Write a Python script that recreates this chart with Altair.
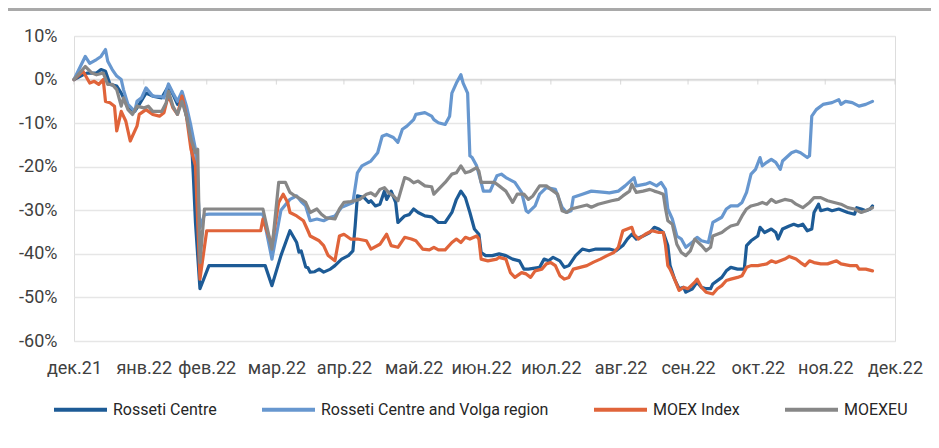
import json
import altair as alt
import pandas as pd

# ---------------- data (days since 2021-12-31, values in %) ----------------
RC_DAYS = [0, 4, 6, 10, 12, 14, 16, 19, 21, 22, 24, 27, 29, 32, 35, 39, 42, 44, 46, 48, 50, 52, 53, 54, 56, 60,
           85, 88, 92, 96, 99, 100, 101, 103, 104, 105, 107, 109, 111, 114, 116, 119, 122, 124, 125, 126, 129, 131,
           132, 134, 136, 138, 139, 141, 143, 144, 147, 149, 151, 153, 156, 159, 162, 165, 168, 170, 172, 174, 176,
           178, 180, 181, 183, 186, 189, 192, 195, 198, 200, 202, 207, 209, 211, 213, 216, 218, 220, 223, 226, 229,
           232, 236, 238, 241, 244, 246, 248, 250, 253, 256, 258, 260, 262, 264, 265, 267, 269, 271, 272, 275, 277,
           279, 281, 283, 284, 288, 290, 292, 295, 298, 299, 301, 304, 305, 307, 310, 312, 313, 315, 318, 320, 322,
           324, 326, 328, 329, 331, 332, 335, 337, 340, 342, 344, 347, 348, 350, 352, 354, 355]
RC_VALUES = [0, 1.1, 1.5, 1.5, 2.3, 1.9, -1.1, -1.5, -3.1, -4.2, -6.5, -7.3, -5.7, -3.1, -3.8, -4.2, -1.5, -3.4,
             -5.7, -3.4, -8.4, -12.2, -21.4, -32.8, -48.0, -42.7,
             -42.7, -47.3, -40.4, -34.7, -37.4, -39.6, -39.3, -43.0, -43.2, -44.2, -44.1, -43.5, -44.2, -43.5,
             -42.7, -41.2, -40.4, -39.3, -33.6, -26.7, -27.1, -28.2, -27.8, -29.0, -28.6, -25.6, -27.5, -25.6,
             -28.2, -32.8, -31.3, -31.0, -29.7, -30.5, -31.3, -31.5, -32.8, -32.8, -30.5, -27.5, -25.6, -27.1,
             -30.5, -34.3, -35.5, -39.7, -40.4, -40.4, -40.0, -40.4, -41.2, -41.6, -43.5, -43.5, -43.1, -41.2,
             -41.6, -40.8, -41.6, -43.1, -42.7, -40.4, -38.9, -39.3, -38.9, -38.9, -38.9, -39.3, -38.1, -36.6,
             -35.5, -36.6, -35.9, -35.1, -33.9, -34.3, -35.1, -38.1, -42.7, -45.8, -48.0, -47.7, -48.8, -48.0,
             -46.5, -47.7, -48.0, -48.0, -46.9, -45.4, -43.9, -43.1, -43.5, -43.5, -38.1, -37.0, -35.9, -33.9,
             -35.1, -34.3, -35.1, -36.6, -34.3, -33.6, -33.2, -33.6, -33.2, -34.7, -34.3, -30.5, -28.6, -30.1,
             -29.7, -30.1, -29.7, -30.1, -30.5, -30.9, -29.4, -29.7, -30.1, -29.7, -29.0]

RCV_DAYS = [0, 5, 7, 10, 12, 14, 15, 17, 19, 21, 22, 24, 27, 28, 30, 32, 35, 39, 40, 42, 44, 46, 48, 50, 52, 54,
            55, 56, 58, 60, 84, 88, 92, 96, 99, 101, 103, 105, 108, 111, 114, 116, 119, 124, 126, 128, 132, 135,
            137, 139, 142, 144, 146, 148, 151, 152, 156, 159, 160, 162, 165, 167, 168, 170, 172, 173, 175, 176, 177,
            179, 181, 182, 185, 188, 190, 192, 196, 199, 201, 202, 205, 207, 210, 214, 217, 219, 221, 222, 226, 230,
            236, 238, 242, 245, 249, 250, 254, 256, 259, 261, 263, 264, 266, 268, 270, 272, 275, 277, 279, 282, 284,
            288, 290, 292, 295, 297, 299, 301, 303, 305, 306, 308, 310, 312, 314, 315, 319, 321, 323, 326, 327, 328,
            330, 333, 337, 340, 341, 343, 346, 349, 352, 355]
RCV_VALUES = [0, 5.3, 3.7, 4.6, 5.3, 6.9, 4.2, 2.3, 0.8, 0.0, -2.3, -5.7, -7.3, -5.0, -4.2, -1.9, -3.8, -3.9, -4.2,
              -1.0, -3.1, -5.0, -2.7, -6.1, -10.7, -16.0, -25.0, -34.0, -31.0, -30.9, -30.9, -41.2, -30.0, -27.5,
              -26.7, -28.0, -29.0, -32.4, -32.0, -32.4, -31.6, -31.3, -29.3, -28.2, -21.4, -19.8, -18.7, -16.8,
              -13.0, -12.6, -13.3, -14.4, -11.4, -10.7, -9.2, -8.0, -7.6, -8.4, -9.2, -9.9, -10.3, -8.4, -3.1,
              -0.8, 1.1, -0.8, -3.1, -17.5, -17.9, -19.8, -23.6, -25.6, -25.6, -22.1, -21.7, -22.5, -23.6, -25.9,
              -30.1, -30.5, -29.0, -26.3, -24.8, -25.2, -29.3, -30.5, -30.1, -27.0, -26.3, -25.6, -25.9, -26.0,
              -25.6, -24.4, -22.5, -24.4, -24.0, -23.6, -24.4, -23.6, -25.2, -29.7, -32.0, -35.9, -36.6, -38.5,
              -37.3, -36.2, -37.0, -37.4, -32.8, -31.6, -29.7, -29.0, -29.0, -28.2, -25.9, -21.7, -20.6, -17.9,
              -19.8, -19.0, -18.3, -19.0, -20.6, -18.7, -16.8, -16.4, -16.8, -17.9, -17.5, -8.4, -6.9, -5.7, -5.3,
              -4.6, -5.7, -5.0, -5.3, -6.1, -5.7, -5.0]

MOEX_DAYS = [0, 4, 7, 9, 11, 13, 14, 16, 18, 19, 21, 23, 25, 28, 29, 32, 35, 38, 40, 42, 44, 46, 48, 50, 52, 54,
             56, 59, 83, 84, 85, 88, 91, 93, 95, 96, 99, 102, 104, 105, 109, 111, 113, 116, 118, 120, 123, 126, 130,
             132, 136, 139, 141, 144, 147, 150, 152, 155, 158, 160, 162, 165, 168, 170, 172, 174, 176, 179, 180, 181,
             184, 188, 189, 192, 194, 196, 199, 201, 203, 205, 208, 210, 212, 214, 216, 218, 220, 222, 225, 228, 231,
             234, 237, 240, 242, 243, 244, 248, 249, 251, 254, 257, 260, 262, 263, 264, 265, 267, 269, 271, 273, 276,
             277, 279, 281, 284, 286, 288, 290, 292, 295, 297, 299, 301, 304, 308, 310, 312, 316, 318, 321, 323, 325,
             327, 329, 332, 335, 339, 341, 345, 348, 349, 352, 355]
MOEX_VALUES = [0, 1.9, -0.8, -0.4, -1.1, 0.0, -5.0, -5.3, -6.1, -11.8, -7.3, -9.5, -14.1, -10.7, -8.0, -6.9, -8.0,
               -8.4, -7.6, -3.4, -6.5, -8.0, -3.8, -8.4, -16.0, -19.8, -45.8, -34.7, -34.7, -32.0, -33.6, -38.1,
               -28.2, -26.3, -28.2, -30.5, -31.3, -32.4, -34.7, -35.9, -37.0, -38.1, -40.4, -41.6, -35.9, -35.5,
               -36.6, -36.6, -37.0, -38.9, -37.8, -35.5, -38.1, -38.5, -36.2, -36.6, -37.0, -38.9, -39.1, -38.5,
               -39.1, -39.1, -37.4, -36.6, -37.4, -36.2, -36.6, -35.9, -36.6, -41.2, -41.6, -41.2, -40.8, -41.2,
               -44.3, -45.4, -44.3, -44.6, -45.4, -43.9, -43.5, -42.3, -42.0, -42.7, -45.0, -45.8, -45.4, -43.5,
               -43.1, -42.7, -41.9, -41.2, -40.4, -39.7, -38.5, -36.6, -34.7, -33.9, -35.5, -36.6, -35.5, -34.7,
               -35.1, -35.1, -38.1, -42.7, -43.5, -45.8, -48.4, -47.7, -48.0, -46.5, -45.8, -47.7, -48.8, -49.2,
               -48.0, -47.3, -46.1, -45.8, -45.4, -45.0, -43.1, -42.7, -42.7, -42.3, -41.6, -42.0, -41.2, -40.6,
               -41.2, -42.0, -42.7, -41.6, -42.0, -42.3, -42.3, -41.6, -42.3, -42.7, -42.7, -43.5, -43.5, -43.9]

MOEXEU_DAYS = [0, 5, 8, 10, 13, 15, 17, 19, 21, 22, 24, 26, 28, 31, 33, 35, 39, 41, 42, 44, 46, 48, 50, 52, 54, 55,
               56, 58, 84, 88, 91, 94, 96, 98, 101, 103, 105, 108, 110, 112, 116, 118, 120, 123, 127, 130, 132, 134,
               136, 138, 140, 142, 144, 147, 149, 151, 153, 156, 159, 160, 162, 165, 168, 170, 172, 174, 176, 179,
               180, 181, 184, 187, 189, 192, 195, 197, 200, 202, 204, 207, 210, 212, 215, 217, 219, 221, 224, 228,
               230, 233, 236, 239, 242, 244, 247, 248, 250, 253, 256, 258, 260, 262, 263, 264, 266, 268, 270, 272,
               274, 276, 279, 281, 283, 284, 288, 290, 292, 295, 297, 299, 301, 304, 306, 308, 310, 312, 316, 319,
               321, 324, 327, 329, 332, 335, 338, 341, 344, 347, 350, 352, 355]
MOEXEU_VALUES = [0, 3.0, 1.5, 1.1, 1.5, -1.1, -1.1, -2.3, -6.1, -4.2, -6.9, -8.0, -6.1, -6.5, -6.1, -7.3, -7.3,
                 -5.3, -2.7, -6.1, -8.0, -5.0, -8.4, -13.7, -16.8, -16.0, -42.0, -29.7, -29.7, -38.9, -23.6, -23.6,
                 -25.9, -26.6, -27.5, -28.2, -30.5, -29.7, -30.9, -31.7, -32.0, -29.7, -28.2, -28.0, -27.5, -26.3,
                 -26.0, -26.7, -25.2, -24.8, -26.0, -26.7, -27.8, -22.5, -22.9, -23.7, -23.3, -24.4, -24.6, -26.3,
                 -25.2, -23.6, -21.7, -21.4, -19.8, -21.4, -21.1, -20.2, -21.0, -23.6, -23.6, -23.6, -24.4, -25.6,
                 -28.2, -26.3, -26.3, -27.5, -26.7, -24.4, -24.4, -25.2, -26.3, -30.1, -30.5, -29.7, -29.3, -28.8,
                 -29.3, -28.6, -28.2, -27.8, -27.5, -26.7, -25.6, -24.0, -25.9, -25.6, -25.2, -25.6, -25.9, -26.3,
                 -29.7, -32.4, -33.2, -37.8, -39.7, -40.4, -39.3, -36.6, -38.1, -39.3, -38.5, -35.9, -35.1, -34.3,
                 -33.6, -33.2, -31.3, -29.7, -29.0, -28.6, -28.2, -28.6, -27.5, -28.2, -27.5, -27.8, -28.6, -29.4,
                 -28.2, -27.1, -27.1, -27.8, -28.2, -28.6, -29.4, -29.7, -30.5, -30.1, -29.4]

SERIES = ["Rosseti Centre", "Rosseti Centre and Volga region", "MOEX Index", "MOEXEU"]
COLORS = ["#1D5B96", "#6797CF", "#E0643A", "#878787"]
START_DATE = "2021-12-31"

TICK_DATES = ["2021-12-31", "2022-01-31", "2022-02-28", "2022-03-31", "2022-04-30", "2022-05-31",
              "2022-06-30", "2022-07-31", "2022-08-31", "2022-09-30", "2022-10-31", "2022-11-30", "2022-12-31"]
MONTH_ABBR = ["янв", "фев", "мар", "апр", "май", "июн", "июл", "авг", "сен", "окт", "ноя", "дек"]
Y_TICKS = [10, 0, -10, -20, -30, -40, -50, -60]

# ---------------- build table ----------------
frames = []
for name, days, vals in zip(SERIES, [RC_DAYS, RCV_DAYS, MOEX_DAYS, MOEXEU_DAYS],
                            [RC_VALUES, RCV_VALUES, MOEX_VALUES, MOEXEU_VALUES]):
    dates = (pd.Timestamp(START_DATE) + pd.to_timedelta(days, unit="D")).strftime("%Y-%m-%d")
    frames.append(pd.DataFrame({"date": dates, "value": vals, "series": name}))
df = pd.concat(frames, ignore_index=True)

ticks_df = pd.DataFrame({"date": TICK_DATES, "value": 0})


def dt(s):
    y, m, d = (int(p) for p in s.split("-"))
    return alt.DateTime(year=y, month=m, date=d, utc=True)


FONT = "Roboto"
TEXT = "#404040"
W, H = 821, 305

label_expr = (json.dumps(MONTH_ABBR, ensure_ascii=False)
              + "[utcmonth(datum.value)] + '.' + utcFormat(datum.value, '%y')")

xscale = alt.Scale(type="utc", domain=[dt(TICK_DATES[0]), dt(TICK_DATES[-1])])
yscale = alt.Scale(domain=[-60, 10], nice=False)

x_enc = alt.X("date:T", scale=xscale, title=None,
              axis=alt.Axis(values=[dt(s) for s in TICK_DATES], labelExpr=label_expr, grid=False,
                            domain=False, ticks=False, labelPadding=18, labelFontSize=18,
                            labelColor=TEXT, labelFont=FONT, labelFlush=False, labelOverlap=False))
y_enc = alt.Y("value:Q", scale=yscale, title=None,
              axis=alt.Axis(values=Y_TICKS, labelExpr="datum.value + '%'", domain=False, ticks=False,
                            labelPadding=17, labelFontSize=18, labelColor=TEXT, labelFont=FONT,
                            grid=True, gridColor="#e6e6e6", gridWidth=1.5))

color_enc = alt.Color("series:N", scale=alt.Scale(domain=SERIES, range=COLORS),
                      legend=alt.Legend(title=None, orient="none", legendX=-22, legendY=345,
                                        direction="horizontal", symbolType="stroke", symbolSize=2809,
                                        symbolStrokeWidth=4, labelFontSize=16, labelFont=FONT,
                                        labelColor="#262626", labelOffset=4, columnPadding=37, padding=0,
                                        labelLimit=400))

zero_rule = alt.Chart(ticks_df).mark_rule(color="#d9d9d9", strokeWidth=1.5).encode(
    y=alt.Y("mean(value):Q", scale=yscale))
zero_ticks = alt.Chart(ticks_df).mark_tick(orient="vertical", size=5, thickness=1.2, color="#d0d0d0",
                                           yOffset=2.5).encode(x=alt.X("date:T", scale=xscale),
                                                               y=alt.Y("value:Q", scale=yscale))
top_rule = alt.Chart(ticks_df).mark_rule(color="#a9a9a9", strokeWidth=2.5).encode(
    x=alt.value(-66), x2=alt.value(W + 36), y=alt.value(-27))

layers = [zero_rule, zero_ticks]
for name in SERIES:
    layers.append(
        alt.Chart(df).transform_filter(alt.datum.series == name)
        .mark_line(strokeWidth=3.2, strokeJoin="round", strokeCap="round")
        .encode(x=x_enc, y=y_enc, color=color_enc)
    )
layers.append(top_rule)

chart = alt.layer(*layers).properties(
    width=W, height=H,
    autosize=alt.AutoSizeParams(type="none"),
    padding={"left": 66, "top": 28, "right": 36, "bottom": 99},
).configure_view(stroke=None).configure(background="white")

chart.save("out.html", embed_options={"renderer": "svg", "actions": False})
